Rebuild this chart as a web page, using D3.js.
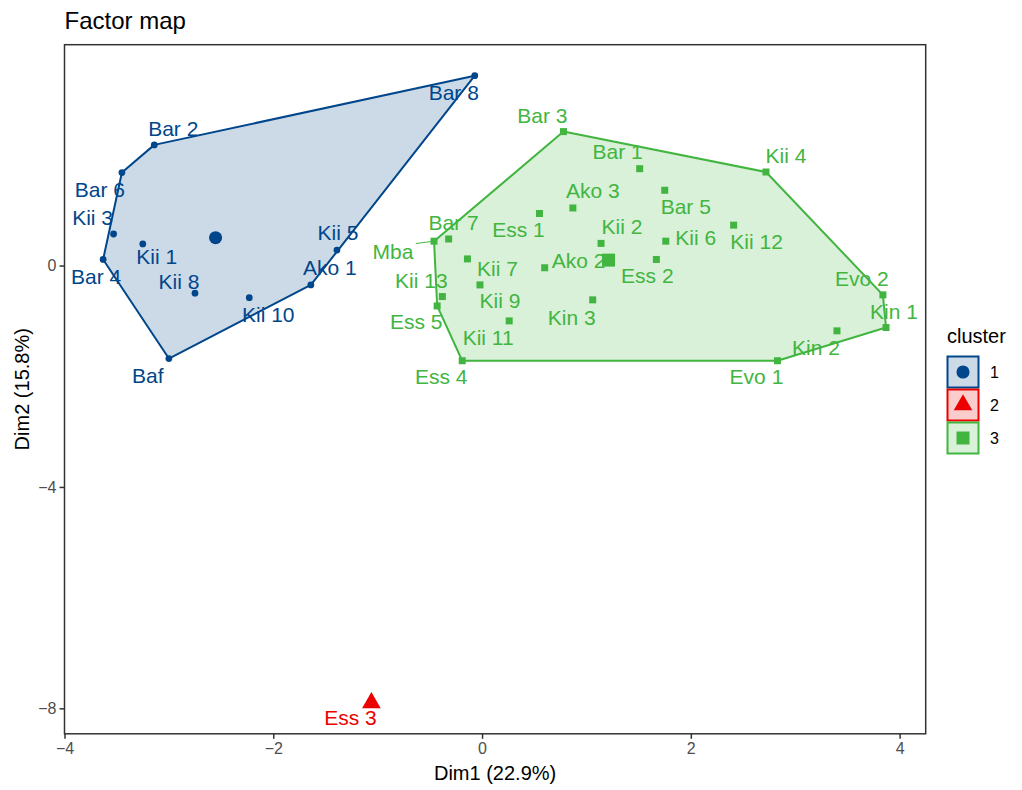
<!DOCTYPE html>
<html>
<head>
<meta charset="utf-8">
<script src="https://cdn.jsdelivr.net/npm/d3@7"></script>
<style>
body { margin: 0; background: #fff; }
text { font-family: "Liberation Sans", Arial, sans-serif; }
</style>
</head>
<body>
<div id="chart"></div>
<script>
// sample names, coordinates on the first two dimensions, and cluster
var names = ["Bar 8", "Bar 2", "Bar 6", "Kii 3", "Bar 4", "Kii 1", "Kii 8", "Kii 10", "Ako 1", "Kii 5", "Baf",
    "Ess 3",
    "Bar 3", "Bar 1", "Kii 4", "Bar 5", "Ako 3", "Ess 1", "Kii 12", "Mba", "Bar 7", "Kii 2", "Kii 6", "Ess 2",
    "Kii 7", "Ako 2", "Kii 9", "Kii 13", "Ess 5", "Kin 3", "Kii 11", "Evo 2", "Kin 1", "Kin 2", "Ess 4", "Evo 1"];
var dim1 = [-0.07, -3.14, -3.45, -3.53, -3.63, -3.25, -2.75, -2.23, -1.64, -1.39, -3.00,
    -1.06,
    0.78, 1.51, 2.72, 1.75, 0.87, 0.55, 2.41, -0.46, -0.32, 1.14, 1.76, 1.67,
    -0.14, 0.60, -0.02, -0.38, -0.43, 1.06, 0.26, 3.84, 3.87, 3.40, -0.19, 2.83];
var dim2 = [3.43, 2.18, 1.68, 0.57, 0.11, 0.39, -0.50, -0.58, -0.35, 0.28, -1.68,
    -7.90,
    2.42, 1.75, 1.69, 1.36, 1.04, 0.94, 0.73, 0.44, 0.48, 0.40, 0.44, 0.11,
    0.12, -0.04, -0.35, -0.56, -0.73, -0.62, -1.00, -0.53, -1.12, -1.18, -1.72, -1.72];
var cluster = ["1", "1", "1", "1", "1", "1", "1", "1", "1", "1", "1",
    "2",
    "3", "3", "3", "3", "3", "3", "3", "3", "3", "3", "3", "3",
    "3", "3", "3", "3", "3", "3", "3", "3", "3", "3", "3", "3"];

var clusterIds = ["1", "2", "3"];
var clusterColors = ["#00468B", "#ED0000", "#42B540"];
var xTicks = [-4, -2, 0, 2, 4];
var yTicks = [0, -4, -8];

// where the repelled labels sit relative to their point (pixels)
var labelNudge = {
    "Bar 8": [-21, 17], "Bar 2": [19, -16], "Bar 6": [-22, 17], "Kii 3": [-21, -16], "Bar 4": [-7, 17],
    "Kii 1": [14, 13], "Kii 8": [-16, -12], "Kii 10": [19, 17], "Ako 1": [19, -17], "Kii 5": [1, -17],
    "Baf": [-21, 17], "Ess 3": [-21, 15],
    "Bar 3": [-21, -16], "Bar 1": [-22, -17], "Kii 4": [20, -16], "Bar 5": [21, 16], "Ako 3": [20, -17],
    "Ess 1": [-21, 16], "Kii 12": [23, 17], "Mba": [-41, 10], "Bar 7": [5, -16], "Kii 2": [21, -17],
    "Kii 6": [30, -4], "Ess 2": [-9, 16], "Kii 7": [30, 10], "Ako 2": [34, -7], "Kii 9": [20, 16],
    "Kii 13": [-21, -16], "Ess 5": [-21, 16], "Kin 3": [-21, 18], "Kii 11": [-21, 17], "Evo 2": [-21, -16],
    "Kin 1": [8, -16], "Kin 2": [-21, 17], "Ess 4": [-21, 16], "Evo 1": [-21, 16]
};

var svgWidth = 1022;
var svgHeight = 790;
var panel = { left: 64.5, right: 925.7, top: 44.7, bottom: 733.8 };

var svg = d3.select("#chart").append("svg")
    .attr("width", svgWidth)
    .attr("height", svgHeight);

var data = names.map((n, i) => ({ name: n, x: dim1[i], y: dim2[i], cluster: cluster[i] }));

var scaleX = d3.scaleLinear().domain([-4.0, 4.25]).range([panel.left, panel.right]);
var scaleY = d3.scaleLinear().domain([-8.46, 3.99]).range([panel.bottom, panel.top]);
var color = d3.scaleOrdinal().domain(clusterIds).range(clusterColors);

var shapes = { "1": d3.symbolCircle, "2": d3.symbolTriangle, "3": d3.symbolSquare };
var pointSize = { "1": 36, "2": 60, "3": 49 };
var centerSize = { "1": 135, "2": 150, "3": 169 };

// title
svg.append("text")
    .attr("x", panel.left)
    .attr("y", 29)
    .attr("font-size", 24)
    .attr("fill", "#000")
    .text("Factor map");

var plot = svg.append("g");

// convex hulls
clusterIds.forEach(function(c) {
    var pts = data.filter(d => d.cluster === c).map(d => [scaleX(d.x), scaleY(d.y)]);
    if (pts.length < 3) return;
    var hull = d3.polygonHull(pts);
    plot.append("path")
        .attr("d", "M" + hull.join("L") + "Z")
        .attr("fill", color(c))
        .attr("fill-opacity", 0.2)
        .attr("stroke", color(c))
        .attr("stroke-width", 2)
        .attr("stroke-linejoin", "round");
});

// points
plot.selectAll("path.pt")
    .data(data)
    .enter().append("path")
    .attr("class", "pt")
    .attr("transform", d => `translate(${scaleX(d.x)},${scaleY(d.y)})`)
    .attr("d", d => d3.symbol().type(shapes[d.cluster]).size(pointSize[d.cluster])())
    .attr("fill", d => color(d.cluster));

// cluster centres
var centers = clusterIds.map(function(c) {
    var sub = data.filter(d => d.cluster === c);
    return { cluster: c, x: d3.mean(sub, d => d.x), y: d3.mean(sub, d => d.y) };
});
plot.selectAll("path.ctr")
    .data(centers)
    .enter().append("path")
    .attr("class", "ctr")
    .attr("transform", d => `translate(${scaleX(d.x)},${scaleY(d.y)})`)
    .attr("d", d => d3.symbol().type(shapes[d.cluster]).size(centerSize[d.cluster])())
    .attr("fill", d => color(d.cluster));

// labels
var labels = plot.selectAll("text.lab")
    .data(data)
    .enter().append("text")
    .attr("class", "lab")
    .attr("x", d => scaleX(d.x) + labelNudge[d.name][0])
    .attr("y", d => scaleY(d.y) + labelNudge[d.name][1])
    .attr("dy", "0.35em")
    .attr("text-anchor", "middle")
    .attr("font-size", 21)
    .attr("fill", d => color(d.cluster))
    .text(d => d.name);

// leader segments for labels pushed far away
labels.each(function(d) {
    var b = this.getBBox();
    var px = scaleX(d.x), py = scaleY(d.y);
    var cx = Math.max(b.x, Math.min(px, b.x + b.width));
    var cy = Math.max(b.y + 4, Math.min(py, b.y + b.height - 4));
    var dist = Math.hypot(px - cx, py - cy);
    if (dist > 14) {
        plot.insert("line", "text.lab")
            .attr("x1", cx + 2).attr("y1", cy)
            .attr("x2", px).attr("y2", py)
            .attr("stroke", color(d.cluster))
            .attr("stroke-width", 1);
    }
});

// panel border
svg.append("rect")
    .attr("x", panel.left).attr("y", panel.top)
    .attr("width", panel.right - panel.left)
    .attr("height", panel.bottom - panel.top)
    .attr("fill", "none")
    .attr("stroke", "#333")
    .attr("stroke-width", 1.5);

// axes
var bottomAxis = d3.axisBottom(scaleX).tickValues(xTicks).tickSize(5).tickSizeOuter(0).tickFormat(d => d < 0 ? "\u2212" + (-d) : d);
var leftAxis = d3.axisLeft(scaleY).tickValues(yTicks).tickSize(5).tickSizeOuter(0).tickFormat(d => d < 0 ? "\u2212" + (-d) : d);

var gx = svg.append("g").attr("transform", `translate(0, ${panel.bottom})`).call(bottomAxis);
var gy = svg.append("g").attr("transform", `translate(${panel.left}, 0)`).call(leftAxis);
[gx, gy].forEach(function(g) {
    g.select(".domain").remove();
    g.selectAll(".tick line").attr("stroke", "#333").attr("stroke-width", 1.5);
    g.selectAll(".tick text").attr("fill", "#4D4D4D").attr("font-size", 16)
        .attr("font-family", "Liberation Sans, Arial, sans-serif");
});
gx.selectAll(".tick text").attr("y", 9);
gy.selectAll(".tick text").attr("x", -8);

// axis titles
svg.append("text")
    .attr("x", (panel.left + panel.right) / 2)
    .attr("y", 780)
    .attr("text-anchor", "middle")
    .attr("font-size", 20)
    .text("Dim1 (22.9%)");

svg.append("text")
    .attr("transform", `translate(29, ${(panel.top + panel.bottom) / 2}) rotate(-90)`)
    .attr("text-anchor", "middle")
    .attr("font-size", 20)
    .text("Dim2 (15.8%)");

// legend
var legend = svg.append("g").attr("transform", "translate(947, 343)");
legend.append("text")
    .attr("x", 0).attr("y", 0)
    .attr("font-size", 20)
    .text("cluster");

var keys = legend.selectAll("g.key")
    .data(clusterIds)
    .enter().append("g")
    .attr("class", "key")
    .attr("transform", (d, i) => `translate(0, ${13 + i * 33})`);
keys.append("rect")
    .attr("x", 0.5).attr("y", 0.5)
    .attr("width", 31).attr("height", 31)
    .attr("fill", d => color(d))
    .attr("fill-opacity", 0.2)
    .attr("stroke", d => color(d))
    .attr("stroke-width", 2);
keys.append("path")
    .attr("transform", "translate(16, 16)")
    .attr("d", d => d3.symbol().type(shapes[d]).size(centerSize[d])())
    .attr("fill", d => color(d));
keys.append("text")
    .attr("x", 43).attr("y", 16)
    .attr("dy", "0.35em")
    .attr("font-size", 16)
    .text(d => d);
</script>
</body>
</html>
